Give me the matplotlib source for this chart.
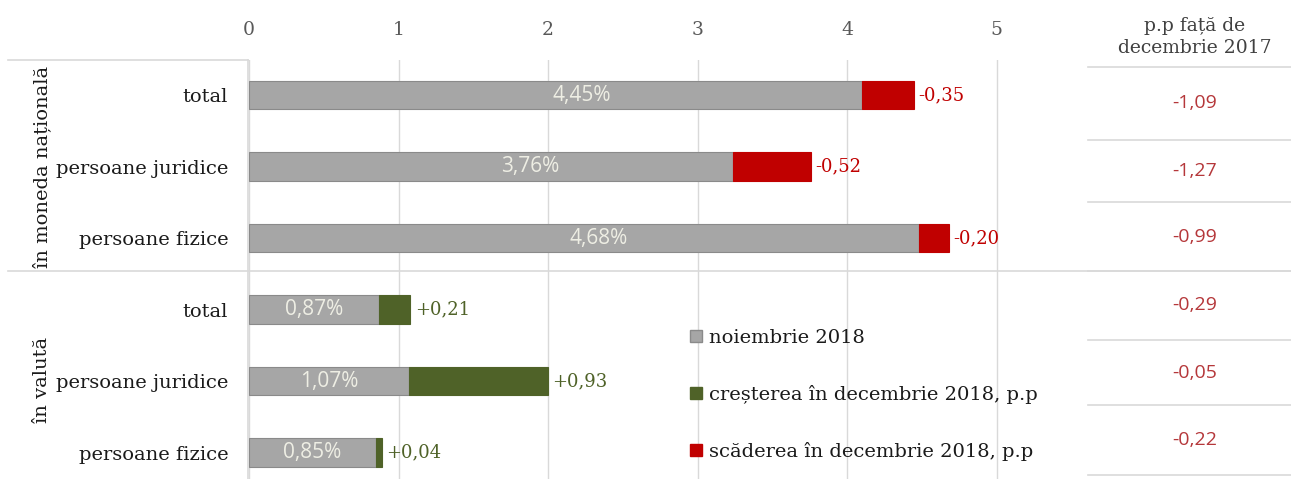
import matplotlib
matplotlib.use("Agg")
import matplotlib.pyplot as plt
from matplotlib.lines import Line2D
from matplotlib.patches import Patch

categories = ["total", "persoane juridice", "persoane fizice",
              "total", "persoane juridice", "persoane fizice"]
groups = ["în moneda națională", "în valută"]
nov_2018 = [4.45, 3.76, 4.68, 0.87, 1.07, 0.85]
change_dec_2018 = [-0.35, -0.52, -0.20, 0.21, 0.93, 0.04]
vs_dec_2017 = [-1.09, -1.27, -0.99, -0.29, -0.05, -0.22]
xticks = [0, 1, 2, 3, 4, 5]
legend_labels = ["noiembrie 2018", "creșterea în decembrie 2018, p.p",
                 "scăderea în decembrie 2018, p.p"]
table_header = "p.p față de\ndecembrie 2017"

GRAY = "#a6a6a6"
GREEN = "#4f6228"
RED = "#c00000"
SERIF = ["DejaVu Serif"]
SANS = ["Open Sans", "DejaVu Sans"]

W, H = 1291, 479
fig = plt.figure(figsize=(W / 100, H / 100), dpi=100)

def fx(px):
    return px / W

def fy(py):
    return 1 - py / H

ax_left, ax_right, ax_top, ax_bottom = 249, 1080, 60, 479
ax = fig.add_axes([fx(ax_left), fy(ax_bottom), fx(ax_right - ax_left), (ax_bottom - ax_top) / H])
xmax = (ax_right - ax_left) / 149.5
ax.set_xlim(0, xmax)
ax.set_ylim(5.37, -0.49)

y = list(range(len(categories)))
base = [min(n, n + c) for n, c in zip(nov_2018, change_dec_2018)]
seg = [abs(c) for c in change_dec_2018]
seg_colors = [GREEN if c > 0 else RED for c in change_dec_2018]

ax.barh(y, base, height=0.4, color=GRAY, edgecolor="#8a8a8a", linewidth=0.8, zorder=3)
ax.barh(y, seg, left=base, height=0.4, color=seg_colors, edgecolor=seg_colors,
        linewidth=0.8, zorder=3)

for i, (n, c) in enumerate(zip(nov_2018, change_dec_2018)):
    ax.text(n / 2, i, f"{n:.2f}%".replace(".", ","), ha="center", va="center",
            color="#eeeee4", fontsize=15, family=SANS, zorder=4)
    end = base[i] + seg[i]
    txt = (f"+{c:.2f}" if c > 0 else f"{c:.2f}").replace(".", ",")
    ax.annotate(txt, (end, i), xytext=(3, 0), textcoords="offset points",
                ha="left", va="center", fontsize=13, family=SERIF,
                color=GREEN if c > 0 else RED, zorder=4)

ax.set_xticks(xticks)
ax.set_xticklabels([str(t) for t in xticks], family=SERIF, fontsize=13.5, color="#595959")
ax.xaxis.tick_top()
ax.tick_params(axis="x", length=0, pad=15)
ax.grid(axis="x", color="#d9d9d9", linewidth=1, zorder=0)
ax.set_yticks(y)
ax.set_yticklabels(categories, family=SERIF, fontsize=14, color="#1a1a1a")
ax.tick_params(axis="y", length=0, pad=15)
for s in ax.spines.values():
    s.set_visible(False)

# left frame lines and group labels
line_kw = dict(color="#d9d9d9", linewidth=1.2, transform=fig.transFigure)
fig.add_artist(Line2D([fx(8), fx(248)], [fy(60), fy(60)], **line_kw))
fig.add_artist(Line2D([fx(248), fx(248)], [fy(60), fy(479)], **line_kw))
fig.add_artist(Line2D([fx(8), fx(W)], [fy(271), fy(271)], **line_kw))
fig.text(fx(42), fy(167), groups[0], rotation=90, ha="center", va="center",
         family=SERIF, fontsize=14, color="#1a1a1a")
fig.text(fx(42), fy(380), groups[1], rotation=90, ha="center", va="center",
         family=SERIF, fontsize=14, color="#1a1a1a")

# right table
fig.text(fx(1195), fy(37), table_header, ha="center", va="center", family=SERIF,
         fontsize=13.5, color="#404040", linespacing=1.25)
row_lines = [67, 140, 202, 271, 340, 405, 475]
for py in row_lines:
    fig.add_artist(Line2D([fx(1088), fx(W)], [fy(py), fy(py)], **line_kw))
for i, v in enumerate(vs_dec_2017):
    mid = (row_lines[i] + row_lines[i + 1]) / 2
    fig.text(fx(1195), fy(mid), f"{v:.2f}".replace(".", ","), ha="center",
             va="center", family=SANS, fontsize=14, color="#b5373a")

# legend
handles = [Patch(facecolor=GRAY, edgecolor="#8a8a8a"),
           Patch(facecolor=GREEN, edgecolor=GREEN),
           Patch(facecolor=RED, edgecolor=RED)]
leg = fig.legend(handles, legend_labels, loc="upper left",
                 bbox_to_anchor=(fx(690), fy(329)), frameon=False,
                 prop={"family": SERIF, "size": 14}, labelspacing=1.95,
                 handlelength=0.6, handleheight=0.6, handletextpad=0.4,
                 borderaxespad=0, borderpad=0)
for t in leg.get_texts():
    t.set_color("#1a1a1a")

fig.savefig("out.png", dpi=100)
